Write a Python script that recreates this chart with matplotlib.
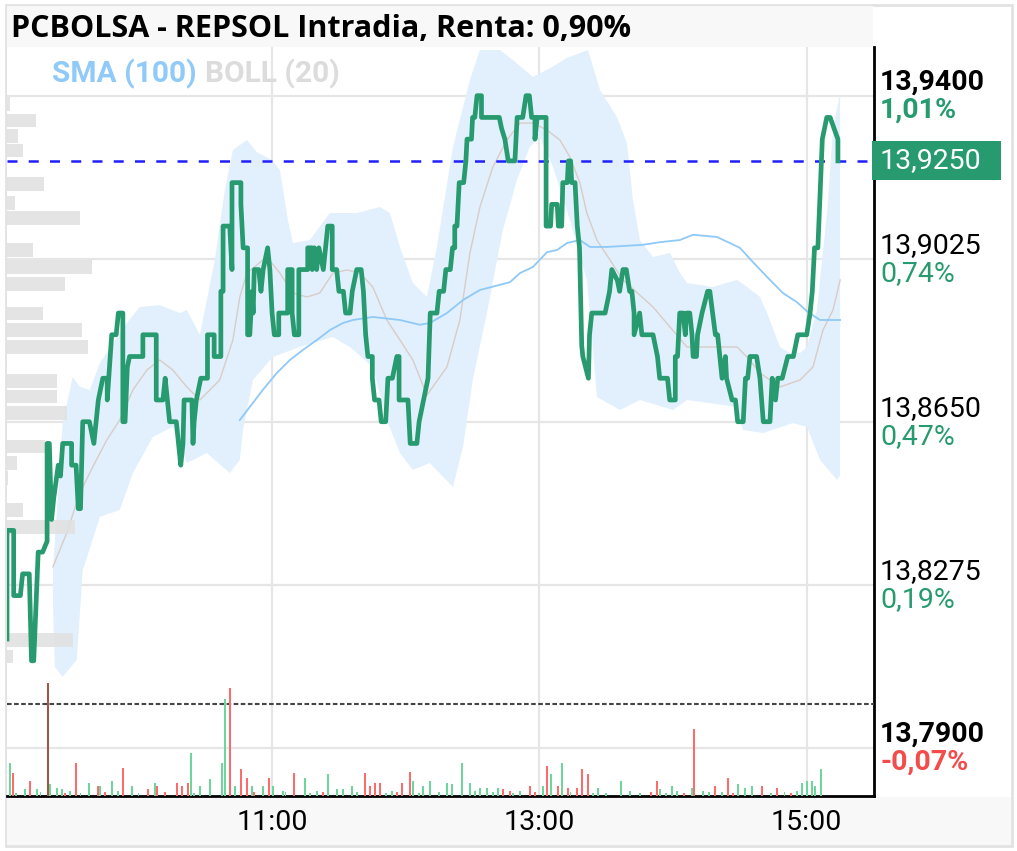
import numpy as np
import matplotlib
matplotlib.use("Agg")
import matplotlib.pyplot as plt
from matplotlib.patches import Rectangle
from matplotlib.transforms import offset_copy

# Datos: minutos desde las 9:00 y precio (EUR)
precio = [
    (1, 13.815), (1, 13.840), (4, 13.840), (4, 13.825), (7, 13.825), (8, 13.830), (11, 13.830),
    (12, 13.810), (13, 13.810), (15, 13.835), (17, 13.835), (19, 13.8375), (19, 13.860), (20, 13.860),
    (21, 13.8425), (22, 13.8475), (24, 13.855), (25, 13.8525), (26, 13.860), (30, 13.860), (30, 13.855),
    (32, 13.855), (33, 13.845), (34, 13.845), (35, 13.865), (38, 13.865), (40, 13.860), (41, 13.865),
    (42, 13.870), (44, 13.875), (46, 13.875), (46, 13.870), (47, 13.8775), (48, 13.885), (50, 13.885),
    (51, 13.890), (53, 13.890), (53, 13.865), (54, 13.865), (55, 13.8775), (56, 13.880), (62, 13.880),
    (62, 13.885), (68, 13.885), (68, 13.870), (71, 13.870), (72, 13.875), (73, 13.870), (74, 13.865),
    (77, 13.865), (79, 13.855), (80, 13.860), (80.5, 13.870), (84, 13.870), (84.5, 13.860), (85, 13.865),
    (86, 13.870), (88, 13.875),
    (91, 13.875), (91, 13.885), (94, 13.885), (94, 13.880), (97, 13.880), (97, 13.895), (98, 13.895),
    (98, 13.910), (101, 13.910), (102, 13.900), (102, 13.920), (106, 13.920), (106, 13.915), (107, 13.905),
    (109, 13.905), (109, 13.885), (110, 13.885), (111, 13.895), (111.5, 13.890), (112, 13.900), (114, 13.900),
    (115, 13.895), (116, 13.900), (118, 13.905), (119, 13.900), (120, 13.890), (121, 13.885), (123, 13.885),
    (123, 13.890), (127, 13.890), (127, 13.900), (129, 13.900), (129, 13.890), (130, 13.885), (132, 13.885),
    (132, 13.900), (136, 13.900), (136, 13.905), (138, 13.905), (138, 13.900), (139, 13.905), (140, 13.900),
    (141, 13.905), (143, 13.900), (145, 13.910), (147, 13.910), (147, 13.900), (149, 13.900), (150, 13.895),
    (152, 13.895), (153, 13.890), (155, 13.890), (156, 13.895), (158, 13.900), (160, 13.900), (161, 13.895),
    (162, 13.885), (163, 13.880), (165, 13.880), (165, 13.875), (166, 13.870), (168, 13.870), (169, 13.865),
    (171, 13.865), (172, 13.875), (174, 13.875), (176, 13.880), (177, 13.880), (177, 13.870), (181, 13.870),
    (182, 13.860), (185, 13.860), (186, 13.865), (188, 13.870), (190, 13.875), (191, 13.890), (194, 13.890),
    (195, 13.895),
    (197, 13.895), (198, 13.900), (200, 13.900), (201, 13.905), (202, 13.905), (202, 13.910), (203, 13.910),
    (204, 13.920), (206, 13.920), (207, 13.925), (207.5, 13.930), (209.5, 13.930), (210, 13.935), (211, 13.935),
    (212, 13.940), (214, 13.940), (214, 13.935), (222, 13.935), (223, 13.9325), (224.5, 13.930), (226, 13.925),
    (229, 13.925), (230, 13.935), (232.5, 13.935), (234, 13.940), (235.5, 13.940), (236.5, 13.935), (238, 13.935),
    (238, 13.930), (239, 13.935), (243, 13.935), (243, 13.910), (245, 13.910), (245.5, 13.915), (248, 13.915),
    (248.5, 13.910), (250, 13.910), (250.5, 13.920), (252.5, 13.920), (253, 13.925), (254, 13.925),
    (254.5, 13.920), (256, 13.920), (257, 13.910), (258, 13.905), (259, 13.8825), (259.5, 13.880),
    (262, 13.875), (262.5, 13.885), (263.5, 13.890), (269.5, 13.890), (271.5, 13.895), (272.5, 13.900),
    (275, 13.8975), (276, 13.895), (277.5, 13.900), (279, 13.900), (280.5, 13.895),
    (281.5, 13.895), (282.5, 13.890), (282.5, 13.885), (285, 13.890), (286, 13.885), (291, 13.885),
    (293, 13.880), (294, 13.875), (297.5, 13.875), (298.5, 13.870), (301, 13.870), (301, 13.880),
    (302, 13.880), (303, 13.890), (304.5, 13.890), (305.5, 13.885), (306, 13.890), (307.5, 13.890),
    (308.5, 13.885), (309, 13.880), (310.5, 13.880), (311, 13.885), (313, 13.890), (315.5, 13.895),
    (316.5, 13.895), (319, 13.885), (320, 13.885), (321, 13.880), (322, 13.875), (323.5, 13.880),
    (324, 13.875), (326.5, 13.870), (328, 13.870), (329, 13.865), (331.5, 13.865), (332.5, 13.875),
    (333.5, 13.875), (334.5, 13.880), (337.5, 13.880), (339, 13.875), (340.5, 13.865), (343.5, 13.865),
    (344.5, 13.875), (346, 13.870), (347, 13.875), (349, 13.875), (351.5, 13.880), (354, 13.880),
    (356, 13.885), (360, 13.885), (361.5, 13.890), (362.5, 13.895), (363.5, 13.905), (365, 13.905),
    (367, 13.930), (369, 13.935), (370.5, 13.935), (374, 13.930), (374, 13.925),
]

sma100 = [
    (105.5, 13.8654), (110, 13.8684), (115.8, 13.8723), (122.1, 13.8762), (128, 13.8792), (133.8, 13.8815),
    (140.1, 13.8838), (146, 13.8861), (151.8, 13.8877), (156.3, 13.8884), (165.2, 13.8891), (177.4, 13.8884),
    (186.3, 13.8873), (190.8, 13.8877), (198.5, 13.8900), (205.7, 13.8930), (213.3, 13.8953), (222.3, 13.8965),
    (226.8, 13.8971), (231.3, 13.8992), (237.1, 13.9006), (243.4, 13.9040), (247.9, 13.9045), (252.4, 13.9061),
    (258.2, 13.9068), (262.7, 13.9052), (270.3, 13.9052), (286.5, 13.9057), (294.1, 13.9063), (303.1, 13.9068),
    (308.9, 13.9080), (319.7, 13.9075), (325.5, 13.9061), (330, 13.9050), (335.9, 13.9017), (342.2, 13.8983),
    (349.3, 13.8946), (355.6, 13.8925), (360.6, 13.8902), (366, 13.8884), (375, 13.8884),
]

boll_sup = [
    (21.6, 13.8308), (26, 13.8647), (30.5, 13.8753), (33.7, 13.8730), (38.2, 13.8723), (42.7, 13.8785),
    (54.8, 13.8877), (60.6, 13.8914), (69.6, 13.8918), (78.6, 13.8900), (81.7, 13.8907), (87.6, 13.8850),
    (94.3, 13.9022), (98.8, 13.9183), (102.4, 13.9275), (108.7, 13.9298), (113.2, 13.9270), (119.9, 13.9252),
    (123.5, 13.9229), (127.1, 13.9114), (129.3, 13.9061), (137, 13.9068), (145.9, 13.9130), (158.1, 13.9130),
    (168.4, 13.9144), (172.9, 13.9130), (177.4, 13.9052), (183.2, 13.8969), (189.5, 13.8937), (194, 13.9052),
    (201.2, 13.9282), (208.8, 13.9436), (213.3, 13.9505), (222.3, 13.9505), (228.1, 13.9482), (237.1, 13.9443),
    (244.7, 13.9463), (252.4, 13.9487), (261.8, 13.9505), (267.2, 13.9413), (274.8, 13.9351), (279.3, 13.9291),
    (282, 13.9160), (285.1, 13.9068), (291, 13.9029), (298.6, 13.9038), (303.1, 13.8992), (306.2, 13.8969),
    (317.9, 13.8960), (328.7, 13.8976), (333.2, 13.8960), (339, 13.8937), (342.2, 13.8900), (348, 13.8822),
    (352.5, 13.8808), (357, 13.8808), (360.1, 13.8822), (364.6, 13.8907), (369.1, 13.9130), (371.8, 13.9321),
    (375, 13.9406),
]

boll_med = [
    (21.6, 13.8316), (27.8, 13.8394), (33.7, 13.8486), (39.5, 13.8546), (45.8, 13.8608), (51.6, 13.8654),
    (57.5, 13.8723), (63.8, 13.8769), (69.6, 13.8792), (75.4, 13.8769), (81.7, 13.8730), (87.6, 13.8700),
    (96.5, 13.8746), (102.4, 13.8838), (105.5, 13.8937), (108.7, 13.8992), (117.6, 13.9029), (123.5, 13.8992),
    (129.3, 13.8946), (135.6, 13.8937), (141.4, 13.8946), (147.3, 13.8992), (153.6, 13.8999), (159.4, 13.8992),
    (165.2, 13.8960), (171.5, 13.8884), (177.4, 13.8838), (183.2, 13.8792), (189.5, 13.8711), (198.5, 13.8776),
    (204.3, 13.8884), (208.8, 13.9038), (213.3, 13.9144), (219.1, 13.9236), (225.4, 13.9298), (231.3, 13.9337),
    (237.1, 13.9337), (243.4, 13.9321), (249.2, 13.9298), (253.7, 13.9259), (258.2, 13.9199), (261.3, 13.9130),
    (265.8, 13.9068), (271.7, 13.9022), (277.5, 13.8976), (291, 13.8914), (298.6, 13.8868), (306.2, 13.8822),
    (328.7, 13.8822), (333.2, 13.8799), (339, 13.8762), (348, 13.8730), (357, 13.8746), (362.8, 13.8776),
    (367.3, 13.8861), (371.8, 13.8907), (375, 13.8976),
]

boll_inf = [
    (21.6, 13.8239), (22.5, 13.8086), (26, 13.8063), (32.3, 13.8102), (35, 13.8308), (42.7, 13.8431),
    (51.6, 13.8447), (57.5, 13.8532), (66.5, 13.8615), (75.4, 13.8638), (81.7, 13.8555), (90.7, 13.8578),
    (101, 13.8532), (105.5, 13.8562), (106.9, 13.8631), (111.4, 13.8746), (120.3, 13.8799), (132.5, 13.8822),
    (147.3, 13.8845), (154.9, 13.8822), (165.2, 13.8776), (171.5, 13.8654), (177.4, 13.8578), (183.2, 13.8539),
    (190.8, 13.8555), (201.2, 13.8500), (205.7, 13.8592), (210.1, 13.8746), (216.4, 13.8900), (223.6, 13.9091),
    (229.9, 13.9206), (235.7, 13.9282), (240.2, 13.9305), (246.1, 13.9236), (253.7, 13.9114), (261.3, 13.8976),
    (264, 13.8822), (265.8, 13.8707), (276.2, 13.8677), (285.1, 13.8700), (300, 13.8677), (306.2, 13.8700),
    (328.7, 13.8684), (331.4, 13.8631), (340.4, 13.8624), (353.8, 13.8647), (360.1, 13.8638), (366, 13.8562),
    (373.6, 13.8516), (375, 13.8527),
]

# volumen por minuto: (minuto, miles de acciones, sentido)  s = sube, b = baja, x = cruce
volumen = [
    (2.2, 33, "s"), (3.6, 23, "b"), (5, 3, "s"), (9, 7, "s"), (11.2, 15, "b"), (14.4, 7, "s"), (16, 4, "s"),
    (19.3, 113, "x"), (20.2, 12, "s"), (23.3, 8, "s"), (25.6, 7, "s"), (27, 3, "b"), (29.2, 5, "s"),
    (31.9, 33, "b"), (34, 3, "s"), (37.7, 13, "s"), (41.8, 10, "b"), (42.7, 10, "s"), (45, 4, "b"),
    (48, 15, "s"), (50.7, 5, "s"), (53, 28, "b"), (57, 10, "s"), (60, 3, "s"), (64.2, 7, "b"), (67.4, 13, "s"),
    (68.3, 10, "b"), (72, 4, "b"), (77.2, 13, "b"), (79.5, 10, "b"), (82.2, 13, "b"), (83.5, 43, "s"),
    (85, 3, "s"), (87.6, 10, "s"), (92, 17, "s"), (97.4, 33, "s"), (98.8, 97, "s"), (101, 108, "b"),
    (103.3, 10, "s"), (106, 27, "b"), (108.7, 18, "b"), (110.9, 10, "s"), (112, 4, "b"), (115.8, 10, "s"),
    (118.5, 18, "b"), (120.3, 10, "s"), (124.8, 5, "s"), (126, 4, "s"), (129.8, 23, "b"), (134.7, 18, "s"),
    (137, 3, "s"), (140.1, 5, "s"), (143, 4, "b"), (145, 22, "s"), (149, 7, "s"), (151.8, 7, "s"),
    (155.8, 10, "s"), (158, 4, "s"), (161.7, 23, "b"), (163.9, 10, "b"), (166.1, 13, "b"), (168.4, 13, "b"),
    (171, 3, "s"), (173.8, 5, "s"), (176, 4, "b"), (178.3, 13, "b"), (181.9, 24, "b"), (183.2, 15, "s"),
    (186, 3, "s"), (187.7, 10, "s"), (190.8, 15, "s"), (195, 4, "s"), (198.5, 13, "s"), (200.7, 12, "s"),
    (205.2, 33, "s"), (208.8, 13, "s"), (211, 5, "s"), (213.3, 8, "s"), (216.4, 8, "s"), (219, 4, "s"),
    (221.4, 8, "s"), (223.6, 7, "b"), (226.8, 5, "b"), (228, 3, "s"), (231.3, 5, "s"), (235.7, 10, "b"),
    (238, 4, "b"), (241.6, 10, "s"), (243.4, 30, "b"), (245.2, 22, "s"), (248.3, 10, "b"), (250.1, 33, "s"),
    (252.8, 8, "b"), (254, 4, "s"), (256.8, 8, "b"), (259.1, 27, "b"), (261.8, 22, "b"), (264, 3, "s"),
    (266.3, 8, "s"), (270, 3, "s"), (276.6, 15, "s"), (280.6, 5, "s"), (285, 3, "s"), (290, 4, "b"),
    (292.8, 15, "b"), (294.1, 7, "s"), (297, 3, "s"), (299.5, 10, "s"), (301.8, 5, "s"), (305, 3, "b"),
    (308.5, 8, "s"), (309.4, 67, "b"), (313.4, 5, "s"), (316, 4, "s"), (318.8, 10, "b"), (322, 4, "s"),
    (324.7, 18, "b"), (327, 3, "b"), (329.1, 12, "s"), (332.3, 8, "s"), (335.4, 10, "s"), (339.9, 10, "b"),
    (344, 3, "s"), (346.6, 8, "b"), (350, 4, "s"), (353, 3, "b"), (355.6, 5, "s"), (357.9, 13, "s"),
    (360.1, 15, "s"), (362.4, 15, "s"), (363.7, 10, "s"), (366.4, 27, "s"),
]

# perfil de volumen por nivel de precio
perfil_precio = [13.9380, 13.9343, 13.9308, 13.9274, 13.9196, 13.9154, 13.9118, 13.9046, 13.9005, 13.8966,
                 13.8899, 13.8860, 13.8821, 13.8743, 13.8708, 13.8671, 13.8593, 13.8554, 13.8521, 13.8447,
                 13.8407, 13.8148, 13.8110]
perfil_vol = [3, 29, 11, 16, 37, 8, 73, 26, 85, 58, 36, 75, 81, 50, 50, 60, 38, 10, 1, 16, 68, 66, 6]

cierre_anterior = 13.80
ultimo = precio[-1][1]
niveles = [13.7900, 13.8275, 13.8650, 13.9025, 13.9400]
horas = [120, 240, 360]
etiquetas_horas = ["11:00", "13:00", "15:00"]

VERDE = "#279b6f"
ROJO = "#f44b4b"
W, H = 1017, 851


def fmt(v, dec):
    return f"{v:.{dec}f}".replace(".", ",")


def pct(p):
    r = np.trunc((p / cierre_anterior - 1) * 10000) / 100
    return fmt(r, 2) + "%"


plt.rcParams["font.family"] = ["Roboto", "DejaVu Sans"]

fig = plt.figure(figsize=(W / 100, H / 100), dpi=100, facecolor="white")

# marcos de fondo (por debajo de los ejes)
fig.add_artist(Rectangle((6 / W, 1 - 846 / H), 1006 / W, 841 / H, transform=fig.transFigure,
                         fill=False, ec="#e2e2e2", lw=2, zorder=-2))
fig.add_artist(Rectangle((7 / W, 1 - 47 / H), 866 / W, 41 / H, transform=fig.transFigure,
                         fc="#f8f8f8", ec="none", zorder=-2))
fig.add_artist(Rectangle((7 / W, 1 - 845 / H), 1004 / W, 48 / H, transform=fig.transFigure,
                         fc="#f8f8f8", ec="none", zorder=-2))

ax = fig.add_axes([7 / W, 1 - 796 / H, 867 / W, 749 / H])
ax.set_xlim(1, 390.2)
ax.set_ylim(13.7789, 13.9512)

# bandas de Bollinger
sup_t, sup_v = zip(*boll_sup)
inf_t, inf_v = zip(*boll_inf)
ax.fill(np.concatenate([sup_t, inf_t[::-1]]), np.concatenate([sup_v, inf_v[::-1]]),
        color="#e1f0fc", lw=0, zorder=1)
med_t, med_v = zip(*boll_med)
ax.plot(med_t, med_v, color="#d9ccc6", lw=1.0, zorder=2)

# perfil de volumen
ax.barh(perfil_precio, np.array(perfil_vol) / 2.227, left=ax.get_xlim()[0], height=0.0032,
        color="#e0e0e0", alpha=0.85, zorder=3)

sma_t, sma_v = zip(*sma100)
ax.plot(sma_t, sma_v, color="#8fc9f7", lw=1.3, zorder=4)

ax.axhline(ultimo, color="#1f1fff", lw=1.8, ls=(0, (4, 4.5)), zorder=4)
ax.axhline(cierre_anterior, color="#444444", lw=1.5, ls=(0, (2.2, 1.2)), zorder=4)

p_t, p_v = zip(*precio)
ax.plot(p_t, p_v, color=VERDE, lw=3.4, zorder=6)

# volumen
axv = ax.twinx()
axv.set_ylim(0, 750)
axv.axis("off")
colores = {"s": "#6dd69b", "b": "#ff6b6b", "x": "#a65440"}
v_t, v_q, v_s = zip(*volumen)
axv.bar(v_t, v_q, width=0.8, color=[colores[s] for s in v_s], lw=0)

# ejes y rejilla
ax.set_yticks(niveles)
ax.set_xticks(horas, etiquetas_horas)
ax.tick_params(axis="y", length=0, labelleft=False, labelright=False)
ax.tick_params(axis="x", length=0, pad=9, labelsize=20.5)
ax.grid(True, color="#e6e6e6", lw=1.6)
ax.set_axisbelow(True)
for s in ["top", "left"]:
    ax.spines[s].set_visible(False)
for s in ["right", "bottom"]:
    ax.spines[s].set_linewidth(2)
    ax.spines[s].set_color("black")

# etiquetas de precio a la derecha
tr = ax.get_yaxis_transform()
for nv in niveles:
    extremo = nv in (niveles[0], niveles[-1])
    peso = "bold" if extremo else "normal"
    ax.text(1.0, nv, fmt(nv, 4), transform=offset_copy(tr, fig, x=6, y=6, units="dots"),
            ha="left", va="baseline", fontsize=20.5, fontweight=peso, color="black", clip_on=False)
    color = VERDE if nv >= cierre_anterior else ROJO
    ax.text(1.0, nv, pct(nv), transform=offset_copy(tr, fig, x=6, y=-22, units="dots"),
            ha="left", va="baseline", fontsize=20.5, fontweight=peso, color=color, clip_on=False)

# caja del ultimo precio
ax.add_patch(Rectangle((865 / 867, ultimo - 0.0045), 129 / 867, 0.009, transform=tr,
                       fc=VERDE, ec="none", clip_on=False, zorder=7))
ax.text(1.0, ultimo, fmt(ultimo, 4), transform=offset_copy(tr, fig, x=6, y=0, units="dots"),
        ha="left", va="center", fontsize=20.5, color="white", clip_on=False, zorder=8)

# titulo y leyenda
renta = np.trunc((ultimo / cierre_anterior - 1) * 10000) / 100
fig.text(11 / W, 1 - 37 / H, f"PCBOLSA - REPSOL Intradia, Renta: {fmt(renta, 2)}%",
         family=["Open Sans", "DejaVu Sans"], fontweight="bold", fontsize=22, va="baseline")
fig.text(52 / W, 1 - 82 / H, "SMA (100)", color="#90caf9", fontweight="bold", fontsize=21.5, va="baseline")
fig.text(205 / W, 1 - 82 / H, "BOLL (20)", color="#dcdcdc", fontweight="bold", fontsize=21.5, va="baseline")

fig.savefig("out.png", dpi=100)
